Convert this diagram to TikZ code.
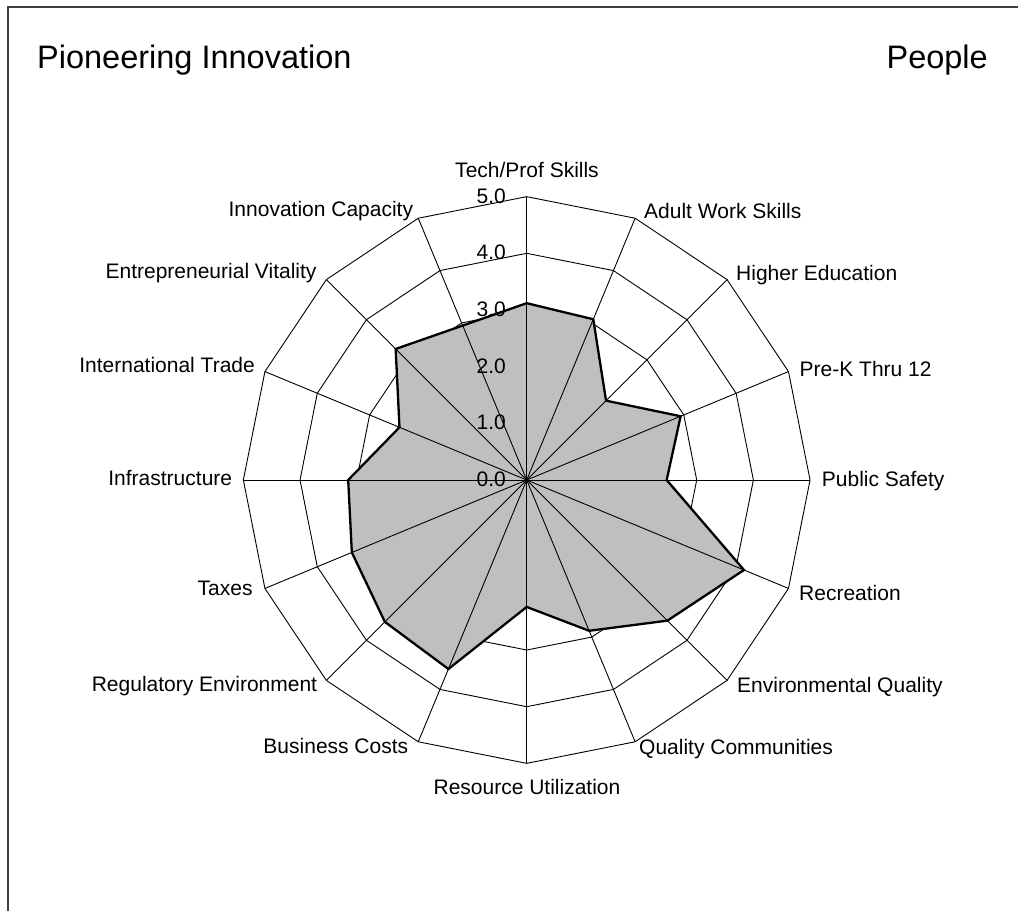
\documentclass[tikz,border=0pt]{standalone}
\usepackage{fontspec}
\setmainfont{Liberation Sans}
\begin{document}
\begin{tikzpicture}[x=1bp,y=-1bp,
  gridline/.style={draw=black,line width=0.9bp},
  framel/.style={draw=black!75,line width=1.5bp},
  areafill/.style={fill=black!25},
  arealine/.style={draw=black,line width=2.3bp,line join=miter},
  lbl/.style={inner sep=0pt,font=\fontsize{21bp}{25bp}\selectfont},
  ttl/.style={inner sep=0pt,font=\fontsize{32.5bp}{38bp}\selectfont}]
\useasboundingbox (0,0) rectangle (1018,911);
\def\cx{526.7}\def\cy{480}\def\u{56.67}
\coordinate (c) at (\cx,\cy);
% frame (top and left edges)
\coordinate (fa) at (8,911);
\coordinate (fb) at (8,7);
\coordinate (fc) at (1018,7);
\draw[framel] (fa) -- (fb) -- (fc);
% titles
\node[ttl,anchor=base west] (t1) at (37,68) {Pioneering Innovation};
\node[ttl,anchor=base east] (t2) at (988,68) {People};
% outer vertices
\foreach \k in {0,...,15}{
  \coordinate (o\k) at ({\cx+5*\u*sin(\k*22.5)},{\cy-5*\u*cos(\k*22.5)});
}
% rings
\foreach \r in {1,...,5}{
  \draw[gridline] ({\cx},{\cy-\r*\u})
    \foreach \k in {1,...,15}{ -- ({\cx+\r*\u*sin(\k*22.5)},{\cy-\r*\u*cos(\k*22.5)}) } -- cycle;
}
% data points
\foreach \v [count=\k from 0] in {3.12,3.07,1.98,2.94,2.47,4.15,3.51,2.88,2.24,3.61,3.54,3.34,3.15,2.43,3.27,2.95}{
  \coordinate (p\k) at ({\cx+\v*\u*sin(\k*22.5)},{\cy-\v*\u*cos(\k*22.5)});
}
\fill[areafill] (p0) \foreach \k in {1,...,15}{ -- (p\k) } -- cycle;
% spokes
\foreach \k in {0,...,15}{ \draw[gridline] (c) -- (o\k); }
\draw[arealine] (p0) \foreach \k in {1,...,15}{ -- (p\k) } -- cycle;
% scale labels
\foreach \r in {0,...,5}{
  \node[lbl,anchor=base east] (s\r) at (506,{\cy-\r*\u+6.5}) {\r.0};
}
% axis labels
\node[lbl,anchor=base] (l0) at (527,177) {Tech/Prof Skills};
\node[lbl,anchor=base west] (l1) at (644,218.5) {Adult Work Skills};
\node[lbl,anchor=base west] (l2) at (736,280.7) {Higher Education};
\node[lbl,anchor=base west] (l3) at (799.5,376.7) {Pre-K Thru 12};
\node[lbl,anchor=base west] (l4) at (821.7,486) {Public Safety};
\node[lbl,anchor=base west] (l5) at (799,600) {Recreation};
\node[lbl,anchor=base west] (l6) at (737,692) {Environmental Quality};
\node[lbl,anchor=base west] (l7) at (639,754.3) {Quality Communities};
\node[lbl,anchor=base] (l8) at (527,794.3) {Resource Utilization};
\node[lbl,anchor=base east] (l9) at (408.4,753.3) {Business Costs};
\node[lbl,anchor=base east] (l10) at (317.3,691.7) {Regulatory Environment};
\node[lbl,anchor=base east] (l11) at (252.7,595) {Taxes};
\node[lbl,anchor=base east] (l12) at (232.3,485.7) {Infrastructure};
\node[lbl,anchor=base east] (l13) at (255,372.7) {International Trade};
\node[lbl,anchor=base east] (l14) at (316.7,278.3) {Entrepreneurial Vitality};
\node[lbl,anchor=base east] (l15) at (413.3,216.7) {Innovation Capacity};
\end{tikzpicture}
\end{document}
